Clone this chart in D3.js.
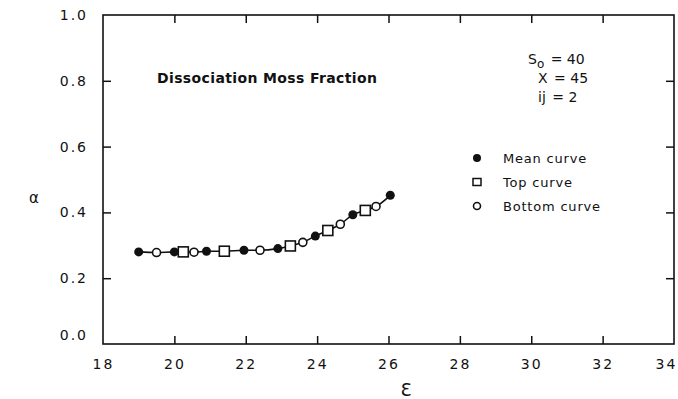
<!DOCTYPE html>
<html>
<head>
<meta charset="utf-8">
<script src="https://cdn.jsdelivr.net/npm/d3@7"></script>
<style>
  html, body { margin: 0; padding: 0; background: #fff; }
  svg { display: block; }
  text { font-family: "DejaVu Sans", "Liberation Sans", sans-serif; fill: #111; }
</style>
</head>
<body>
<svg id="chart" width="678" height="399"></svg>
<script>
// Dissociation mass fraction versus epsilon, three curves
const meanX   = [19.0, 20.0, 20.9, 21.95, 22.9, 23.95, 25.0, 26.05];
const meanY   = [0.280, 0.280, 0.282, 0.285, 0.290, 0.328, 0.393, 0.452];
const topX    = [20.25, 21.4, 23.25, 24.3, 25.35];
const topY    = [0.280, 0.282, 0.298, 0.345, 0.406];
const bottomX = [19.5, 20.55, 22.4, 23.6, 24.65, 25.65];
const bottomY = [0.278, 0.279, 0.285, 0.309, 0.364, 0.418];

const xTicks = [18, 20, 22, 24, 26, 28, 30, 32, 34];
const yTicks = [0.0, 0.2, 0.4, 0.6, 0.8, 1.0];
const legendLabels = ["Mean curve", "Top curve", "Bottom curve"];
const paramLines = [["S", "o", " = 40"], ["X", "", " = 45"], ["ij", "", " = 2"]];

const svg = d3.select("#chart");
const plotL = 103, plotR = 674, plotT = 15, plotB = 344;

const x = d3.scaleLinear().domain([18, 34]).range([plotL, plotR]);
const y = d3.scaleLinear().domain([0, 1]).range([plotB, plotT]);

const ink = "#111";

// frame
svg.append("rect")
  .attr("x", plotL).attr("y", plotT)
  .attr("width", plotR - plotL).attr("height", plotB - plotT)
  .attr("fill", "none").attr("stroke", ink).attr("stroke-width", 1.6);

// axes with inward ticks on all sides
const tickLen = 8;
const xb = svg.append("g").attr("transform", `translate(0,${plotB})`)
  .call(d3.axisBottom(x).tickValues(xTicks).tickSizeInner(-tickLen).tickSizeOuter(0).tickPadding(15).tickFormat(d3.format("d")));
const xt = svg.append("g").attr("transform", `translate(0,${plotT})`)
  .call(d3.axisTop(x).tickValues(xTicks.slice(1, -1)).tickSizeInner(-tickLen).tickSizeOuter(0).tickFormat(""));
const yl = svg.append("g").attr("transform", `translate(${plotL},0)`)
  .call(d3.axisLeft(y).tickValues(yTicks).tickSizeInner(-tickLen).tickSizeOuter(0).tickPadding(15).tickFormat(d3.format(".1f")));
const yr = svg.append("g").attr("transform", `translate(${plotR},0)`)
  .call(d3.axisRight(y).tickValues(yTicks.slice(1, -1)).tickSizeInner(-tickLen).tickSizeOuter(0).tickFormat(""));

[xb, xt, yl, yr].forEach(g => {
  g.select(".domain").remove();
  g.selectAll(".tick line").attr("stroke", ink).attr("stroke-width", 1.5);
  g.selectAll(".tick text").attr("font-size", 14).attr("fill", ink)
    .attr("font-family", "DejaVu Sans, sans-serif").attr("letter-spacing", 2);
});
xb.selectAll(".tick line").filter(d => d === 18 || d === 34).remove();
xb.selectAll(".tick text").filter(d => d === 34).attr("dx", -8);
yl.selectAll(".tick line").filter(d => d === 0 || d === 1).remove();
yl.selectAll(".tick text").filter(d => d === 0).attr("dy", "-0.3em");

// axis titles
svg.append("text").attr("x", 34).attr("y", 203)
  .attr("text-anchor", "middle").attr("font-size", 15).text("α");
svg.append("text").attr("x", 406).attr("y", 396)
  .attr("text-anchor", "middle").attr("font-size", 18).text("Ɛ");

// title inside the plot
svg.append("text").attr("x", 157).attr("y", 83)
  .attr("font-size", 14).attr("font-weight", "bold")
  .attr("textLength", 220).attr("lengthAdjust", "spacing")
  .text("Dissociation Moss Fraction");

// parameter block
const pg = svg.append("g");
paramLines.forEach((p, i) => {
  const ty = 64 + i * 19;
  const t = pg.append("text").attr("x", i === 0 ? 528 : 538).attr("y", ty).attr("font-size", 14);
  t.append("tspan").text(p[0]);
  if (p[1]) t.append("tspan").attr("dy", 4).attr("font-size", 12).text(p[1]);
  t.append("tspan").attr("dy", p[1] ? -4 : 0).attr("dx", 2).text(p[2]);
});

// connecting curve through all points
const all = [];
meanX.forEach((v, i) => all.push([v, meanY[i]]));
topX.forEach((v, i) => all.push([v, topY[i]]));
bottomX.forEach((v, i) => all.push([v, bottomY[i]]));
all.sort((a, b) => a[0] - b[0]);

svg.append("path")
  .datum(all)
  .attr("fill", "none").attr("stroke", ink).attr("stroke-width", 1.6)
  .attr("d", d3.line().x(d => x(d[0])).y(d => y(d[1])).curve(d3.curveMonotoneX));

// markers
const markers = svg.append("g");
markers.selectAll("circle.mean").data(meanX).join("circle")
  .attr("class", "mean")
  .attr("cx", d => x(d)).attr("cy", (d, i) => y(meanY[i]))
  .attr("r", 4.5).attr("fill", ink);
markers.selectAll("rect.top").data(topX).join("rect")
  .attr("class", "top")
  .attr("x", d => x(d) - 5).attr("y", (d, i) => y(topY[i]) - 5)
  .attr("width", 10).attr("height", 10)
  .attr("fill", "#fff").attr("stroke", ink).attr("stroke-width", 1.6);
markers.selectAll("circle.bottom").data(bottomX).join("circle")
  .attr("class", "bottom")
  .attr("cx", d => x(d)).attr("cy", (d, i) => y(bottomY[i]))
  .attr("r", 4).attr("fill", "#fff").attr("stroke", ink).attr("stroke-width", 1.6);

// legend
const lg = svg.append("g");
const ly = [158, 182, 206];
lg.append("circle").attr("cx", 477).attr("cy", ly[0]).attr("r", 4).attr("fill", ink);
lg.append("rect").attr("x", 473).attr("y", ly[1] - 3.5).attr("width", 8).attr("height", 7)
  .attr("fill", "#fff").attr("stroke", ink).attr("stroke-width", 1.5);
lg.append("circle").attr("cx", 477).attr("cy", ly[2]).attr("r", 3.5)
  .attr("fill", "#fff").attr("stroke", ink).attr("stroke-width", 1.6);
legendLabels.forEach((s, i) => {
  lg.append("text").attr("x", 503).attr("y", ly[i] + 5)
    .attr("font-size", 13).attr("letter-spacing", 0.8).text(s);
});
</script>
</body>
</html>
